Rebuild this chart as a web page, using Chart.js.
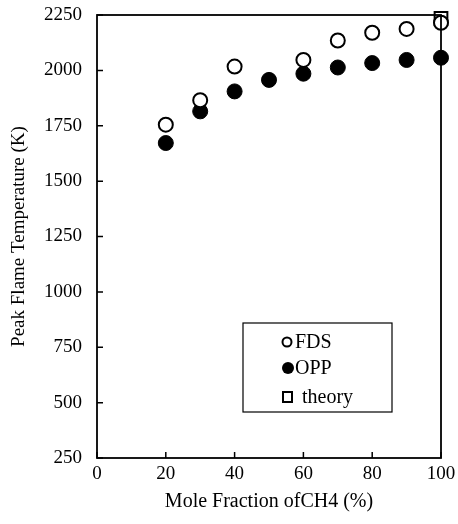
<!DOCTYPE html>
<html>
<head>
  <title>Peak Flame Temperature</title>
  <script src="https://cdn.jsdelivr.net/npm/chart.js"></script>
  <style>
    body { margin: 0; background: #fff; }
    #wrap { width: 458px; height: 524px; }
  </style>
</head>
<body>
  <div id="wrap"><canvas id="myChart"></canvas></div>
  <script>
    // values
    let fdsX = [20, 30, 40, 60, 70, 80, 90, 100];
    let fdsY = [1755, 1865, 2017, 2047, 2135, 2170, 2187, 2215];
    let oppX = [20, 30, 40, 50, 60, 70, 80, 90, 100];
    let oppY = [1672, 1815, 1905, 1957, 1985, 2013, 2033, 2047, 2057];
    let theoryX = [100];
    let theoryY = [2235];
    let yTicks = [250, 500, 750, 1000, 1250, 1500, 1750, 2000, 2250];
    let xTicks = [0, 20, 40, 60, 80, 100];

    let serif = "'Liberation Serif', 'DejaVu Serif', serif";

    function pts(xs, ys) {
      return xs.map((x, i) => ({ x: x, y: ys[i] }));
    }

    // box around plot + inward tick marks
    let frame = {
      id: 'frame',
      afterDraw(chart) {
        let ctx = chart.ctx;
        let a = chart.chartArea;
        let xs = chart.scales.x, ys = chart.scales.y;
        ctx.save();
        ctx.strokeStyle = '#000';
        ctx.lineWidth = 1.8;
        ctx.strokeRect(a.left, a.top, a.right - a.left, a.bottom - a.top);
        ctx.lineWidth = 1.5;
        ctx.beginPath();
        yTicks.forEach(v => {
          let y = ys.getPixelForValue(v);
          ctx.moveTo(a.left, y);
          ctx.lineTo(a.left + 6, y);
        });
        xTicks.forEach(v => {
          let x = xs.getPixelForValue(v);
          ctx.moveTo(x, a.bottom);
          ctx.lineTo(x, a.bottom - 6);
        });
        ctx.stroke();
        ctx.restore();
      }
    };

    // legend box inside plot
    let legendBox = {
      id: 'legendBox',
      afterDraw(chart) {
        let ctx = chart.ctx;
        ctx.save();
        ctx.strokeStyle = '#000';
        ctx.lineWidth = 1.2;
        ctx.strokeRect(243, 323, 149, 89);
        ctx.font = '20px ' + serif;
        ctx.fillStyle = '#000';
        ctx.textBaseline = 'middle';
        let rows = [342, 368, 397];
        let textX = [295, 295, 302];
        chart.data.datasets.forEach((ds, i) => {
          let y = rows[i];
          ctx.lineWidth = 2;
          ctx.beginPath();
          if (ds.pointStyle === 'rect') {
            ctx.strokeRect(283, y - 5, 9, 10);
          } else if (ds.backgroundColor === '#000') {
            ctx.arc(288, y, 6, 0, Math.PI * 2);
            ctx.fill();
          } else {
            ctx.arc(287, y, 4.5, 0, Math.PI * 2);
            ctx.stroke();
          }
          ctx.fillText(ds.label, textX[i], y + 1);
        });
        ctx.restore();
      }
    };

    let ctx = document.getElementById('myChart').getContext('2d');
    let myChart = new Chart(ctx, {
      type: 'scatter',
      data: {
        datasets: [{
          label: 'FDS',
          data: pts(fdsX, fdsY),
          pointStyle: 'circle',
          pointRadius: 7,
          borderWidth: 2,
          borderColor: '#000',
          backgroundColor: '#fff'
        }, {
          label: 'OPP',
          data: pts(oppX, oppY),
          pointStyle: 'circle',
          pointRadius: 7.5,
          borderWidth: 1,
          borderColor: '#000',
          backgroundColor: '#000'
        }, {
          label: 'theory',
          data: pts(theoryX, theoryY),
          pointStyle: 'rect',
          pointRadius: 9,
          borderWidth: 2,
          borderColor: '#000',
          backgroundColor: 'rgba(255,255,255,0)'
        }]
      },
      options: {
        responsive: true,
        maintainAspectRatio: false,
        animation: false,
        clip: false,
        layout: { padding: { top: 15, right: 17, left: 0, bottom: 0 } },
        plugins: {
          legend: { display: false },
          tooltip: { enabled: false }
        },
        scales: {
          x: {
            type: 'linear',
            min: 0,
            max: 100,
            afterBuildTicks: s => { s.ticks = xTicks.map(v => ({ value: v })); },
            afterFit: s => { s.height = 66; s.paddingLeft = 0; s.paddingRight = 0; },
            grid: { display: false, drawTicks: false },
            border: { display: false },
            ticks: { color: '#000', font: { family: serif, size: 19 }, padding: 5, maxRotation: 0, callback: v => String(v) },
            title: {
              display: true,
              text: 'Mole Fraction ofCH4 (%)',
              color: '#000',
              font: { family: serif, size: 20 },
              padding: { top: 0, bottom: 10 }
            }
          },
          y: {
            type: 'linear',
            min: 250,
            max: 2250,
            afterBuildTicks: s => { s.ticks = yTicks.map(v => ({ value: v })); },
            afterFit: s => { s.width = 97; s.paddingTop = 0; s.paddingBottom = 0; },
            grid: { display: false, drawTicks: false },
            border: { display: false },
            ticks: { color: '#000', font: { family: serif, size: 19 }, padding: 15, callback: v => String(v) },
            title: {
              display: true,
              text: 'Peak Flame Temperature (K)',
              color: '#000',
              font: { family: serif, size: 19 },
              padding: { top: 8, bottom: 0 }
            }
          }
        }
      },
      plugins: [frame, legendBox]
    });
  </script>
</body>
</html>
